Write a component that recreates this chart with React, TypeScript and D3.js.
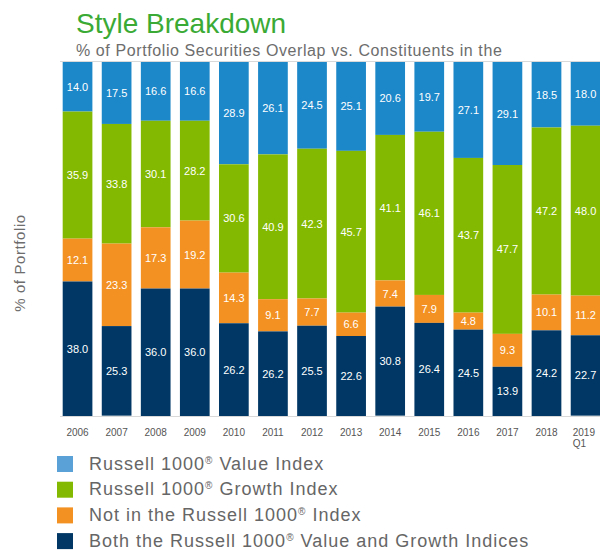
import React from "react";
import * as d3 from "d3";

const years = ["2006", "2007", "2008", "2009", "2010", "2011", "2012", "2013", "2014", "2015", "2016", "2017", "2018", "2019 Q1"];
const valueIdx = [14.0, 17.5, 16.6, 16.6, 28.9, 26.1, 24.5, 25.1, 20.6, 19.7, 27.1, 29.1, 18.5, 18.0];
const growthIdx = [35.9, 33.8, 30.1, 28.2, 30.6, 40.9, 42.3, 45.7, 41.1, 46.1, 43.7, 47.7, 47.2, 48.0];
const notInIdx = [12.1, 23.3, 17.3, 19.2, 14.3, 9.1, 7.7, 6.6, 7.4, 7.9, 4.8, 9.3, 10.1, 11.2];
const bothIdx = [38.0, 25.3, 36.0, 36.0, 26.2, 26.2, 25.5, 22.6, 30.8, 26.4, 24.5, 13.9, 24.2, 22.7];

const seriesKeys = ["value", "growth", "notin", "both"];
const seriesLabels = [
  ["Russell 1000", "®", " Value Index"],
  ["Russell 1000", "®", " Growth Index"],
  ["Not in the Russell 1000", "®", " Index"],
  ["Both the Russell 1000", "®", " Value and Growth Indices"],
];
const barColors = ["#1c87c9", "#83b900", "#f39122", "#003764"];
const legendColors = ["#5aa1d8", "#83b900", "#f39122", "#003764"];

const W = 600;
const H = 550;
const top = 62;
const bottom = 416;
const FONT = "'Liberation Sans', Arial, sans-serif";

export default function App() {
  const rows = years.map((y, i) => ({
    year: y,
    value: valueIdx[i],
    growth: growthIdx[i],
    notin: notInIdx[i],
    both: bothIdx[i],
  }));
  const stack = d3.stack<any>().keys(seriesKeys);
  const stacked = stack(rows);

  const x = d3
    .scaleBand<string>()
    .domain(years)
    .range([58, 58 + 14 * 39.08])
    .paddingInner(0.24)
    .paddingOuter(0.12);
  // stacked from the top of the plot downward
  const y = d3.scaleLinear().domain([0, 100]).range([top, bottom]);

  return (
    <svg width={W} height={H} style={{ position: "absolute", left: 0, top: 0, background: "#fff" }}>
      <defs>
        <clipPath id="plotClip">
          <rect x={0} y={top} width={W} height={bottom - top} />
        </clipPath>
      </defs>
      <text x={76} y={33} fontFamily={FONT} fontSize={28} fill="#3aaa35">
        Style Breakdown
      </text>
      <text x={76} y={56} fontFamily={FONT} fontSize={16} letterSpacing={0.6} fill="#6d6d6d">
        % of Portfolio Securities Overlap vs. Constituents in the
      </text>
      <line x1={60} x2={W} y1={top - 0.5} y2={top - 0.5} stroke="#d9d9d9" />
      <line x1={60} x2={W} y1={bottom + 0.5} y2={bottom + 0.5} stroke="#d9d9d9" />
      <text
        transform={`translate(25,263) rotate(-90)`}
        textAnchor="middle"
        fontFamily={FONT}
        fontSize={15}
        letterSpacing={0.6}
        fill="#6d6d6d"
      >
        % of Portfolio
      </text>
      <g clipPath="url(#plotClip)">
        {stacked.map((s, si) =>
          s.map((d, i) => (
            <rect
              key={`${si}-${i}`}
              x={x(years[i])}
              width={x.bandwidth()}
              y={y(d[0])}
              height={y(d[1]) - y(d[0])}
              fill={barColors[si]}
            />
          ))
        )}
      </g>
      {stacked.map((s, si) =>
        s.map((d, i) => {
          const y0 = y(d[0]);
          const y1 = Math.min(y(d[1]), bottom);
          return (
            <text
              key={`l-${si}-${i}`}
              x={(x(years[i]) as number) + x.bandwidth() / 2}
              y={(y0 + y1) / 2 + 4}
              textAnchor="middle"
              fontFamily={FONT}
              fontSize={11}
              fill="#ffffff"
            >
              {(d[1] - d[0]).toFixed(1)}
            </text>
          );
        })
      )}
      {years.map((yr, i) => {
        const cx = (x(yr) as number) + x.bandwidth() / 2;
        const parts = yr.split(" ");
        if (parts.length > 1) {
          return (
            <text key={yr} fontFamily={FONT} fontSize={10} fill="#555" x={(x(yr) as number) + 2} y={436}>
              <tspan x={(x(yr) as number) + 2} y={436}>{parts[0]}</tspan>
              <tspan x={(x(yr) as number) + 2} y={447}>{parts[1]}</tspan>
            </text>
          );
        }
        return (
          <text key={yr} x={cx} y={436} textAnchor="middle" fontFamily={FONT} fontSize={10} fill="#555">
            {yr}
          </text>
        );
      })}
      {seriesLabels.map((lab, i) => (
        <g key={i} transform={`translate(57,${456 + i * 25.7})`}>
          <rect width={16} height={16} fill={legendColors[i]} />
          <text x={32} y={13.5} fontFamily={FONT} fontSize={18} letterSpacing={1} fill="#666">
            {lab[0]}
            <tspan fontSize={10} dy={-6}>{lab[1]}</tspan>
            <tspan dy={6}>{lab[2]}</tspan>
          </text>
        </g>
      ))}
    </svg>
  );
}
